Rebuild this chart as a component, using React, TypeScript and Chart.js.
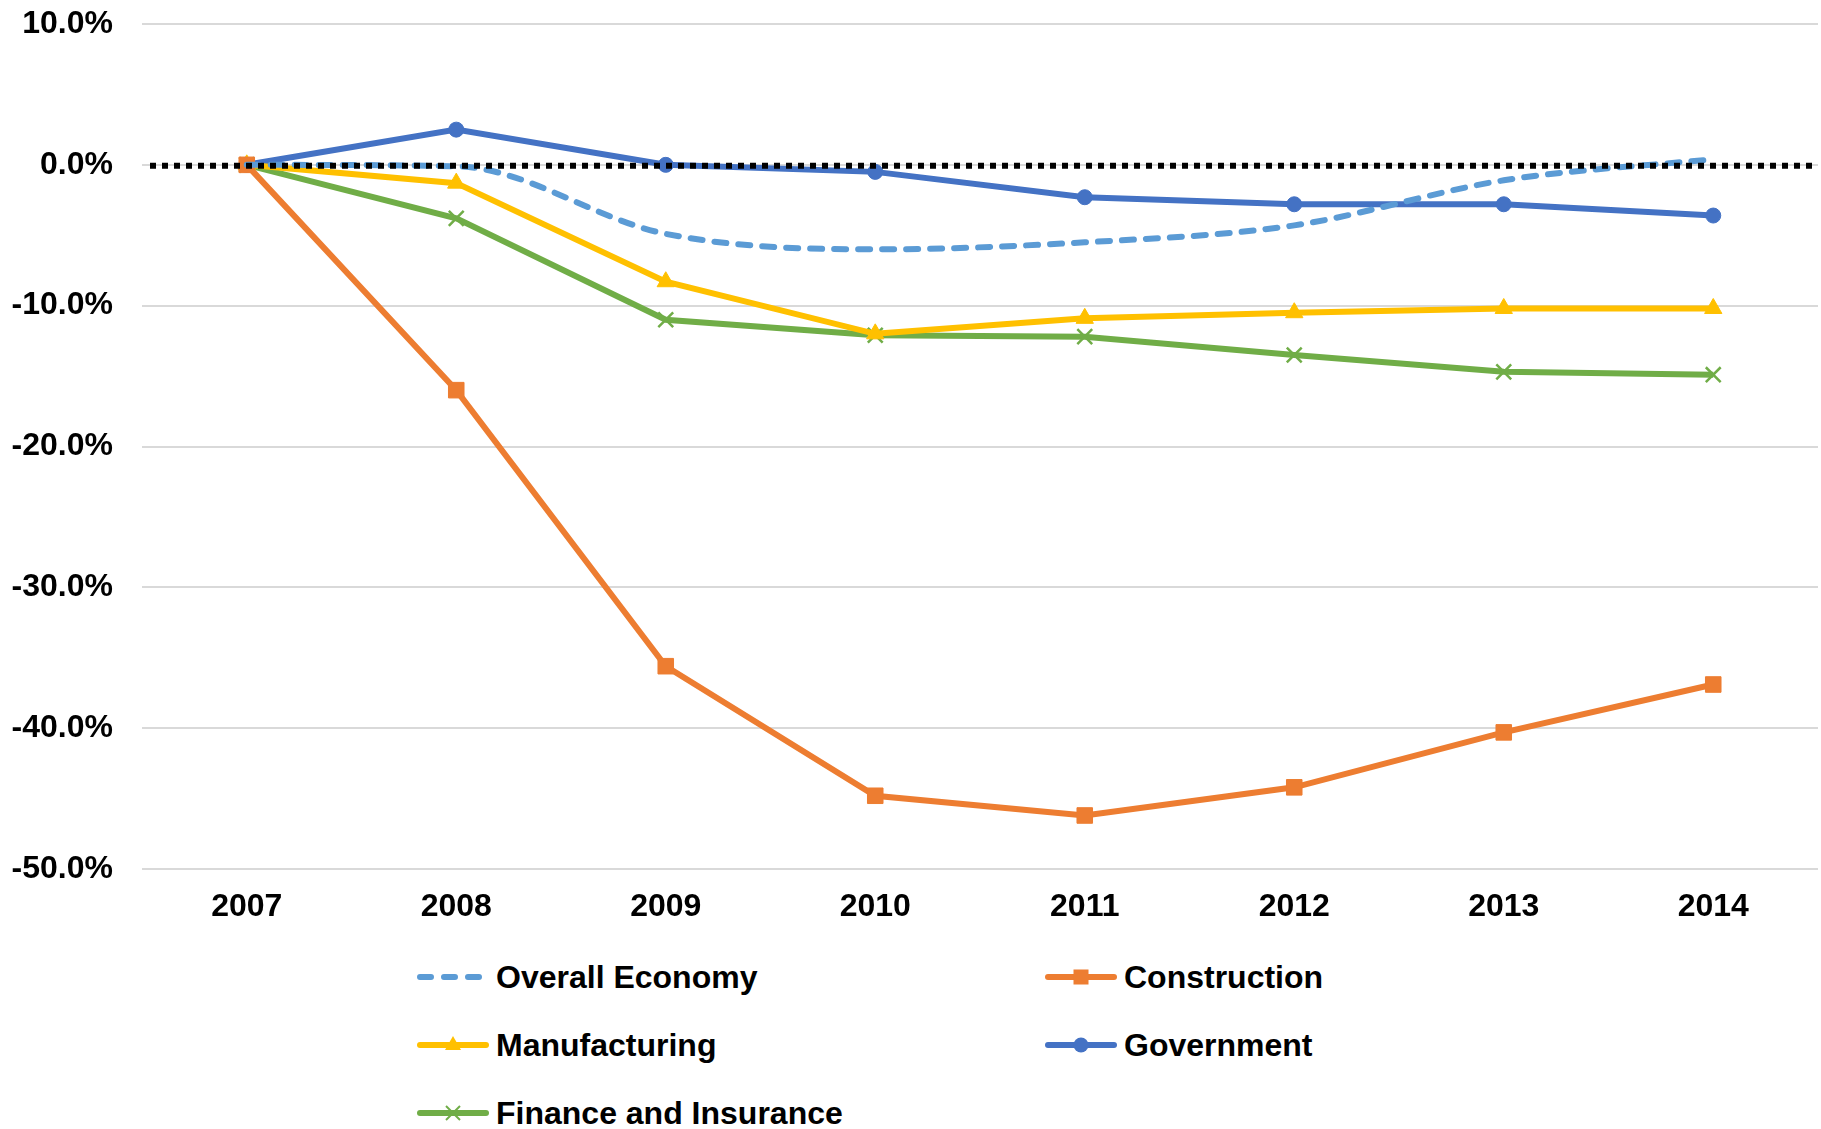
import React, { useEffect, useRef } from 'react';
import { Chart, registerables } from 'chart.js';

Chart.register(...registerables);

const years = ['2007', '2008', '2009', '2010', '2011', '2012', '2013', '2014'];
const overallEconomy = [0, -0.1, -4.9, -6.0, -5.5, -4.3, -1.1, 0.4];
const construction = [0, -16.0, -35.6, -44.8, -46.2, -44.2, -40.3, -36.9];
const manufacturing = [0, -1.3, -8.3, -12.0, -10.9, -10.5, -10.2, -10.2];
const government = [0, 2.5, 0.0, -0.5, -2.3, -2.8, -2.8, -3.6];
const finance = [0, -3.8, -11.0, -12.1, -12.2, -13.5, -14.7, -14.9];

const yMin = -50;
const yMax = 10;
const yStep = 10;

const C_OVERALL = '#5B9BD5';
const C_CONSTR = '#ED7D31';
const C_MANUF = '#FFC000';
const C_GOV = '#4472C4';
const C_FIN = '#70AD47';

const FONT_FAMILY = '"Liberation Sans", Arial, Helvetica, sans-serif';
const FONT_SIZE = 32;

const zeroLine = {
  id: 'zeroLine',
  afterDatasetsDraw(chart: any) {
    const { ctx, chartArea, scales } = chart;
    const py = scales.y.getPixelForValue(0) + 1;
    ctx.save();
    ctx.strokeStyle = '#000000';
    ctx.lineWidth = 6;
    ctx.setLineDash([6, 6]);
    ctx.beginPath();
    ctx.moveTo(chartArea.left + 8, py);
    ctx.lineTo(chartArea.right - 6, py);
    ctx.stroke();
    ctx.restore();
  },
};

type LegendItem = { label: string; color: string; kind: 'dash' | 'rect' | 'triangle' | 'circle' | 'cross' };

const legendItems: LegendItem[] = [
  { label: 'Overall Economy', color: C_OVERALL, kind: 'dash' },
  { label: 'Construction', color: C_CONSTR, kind: 'rect' },
  { label: 'Manufacturing', color: C_MANUF, kind: 'triangle' },
  { label: 'Government', color: C_GOV, kind: 'circle' },
  { label: 'Finance and Insurance', color: C_FIN, kind: 'cross' },
];

function LegendIcon({ item }: { item: LegendItem }) {
  const c = item.color;
  const cx = 36;
  const cy = 12;
  let marker: any = null;
  if (item.kind === 'rect') marker = <rect x={cx - 7.5} y={cy - 7.5} width={15} height={15} fill={c} />;
  if (item.kind === 'circle') marker = <circle cx={cx} cy={cy} r={7.5} fill={c} />;
  if (item.kind === 'triangle')
    marker = <polygon points={`${cx},${cy - 9} ${cx + 8},${cy + 5} ${cx - 8},${cy + 5}`} fill={c} />;
  if (item.kind === 'cross')
    marker = (
      <g stroke={c} strokeWidth={2}>
        <line x1={cx - 7} y1={cy - 7} x2={cx + 7} y2={cy + 7} />
        <line x1={cx - 7} y1={cy + 7} x2={cx + 7} y2={cy - 7} />
      </g>
    );
  return (
    <svg width={72} height={24} style={{ display: 'block', flex: 'none' }}>
      {item.kind === 'dash' ? (
        <line x1={3} y1={cy} x2={66} y2={cy} stroke={c} strokeWidth={6} strokeLinecap="round" strokeDasharray="11 13" />
      ) : (
        <line x1={3} y1={cy} x2={69} y2={cy} stroke={c} strokeWidth={6} strokeLinecap="round" />
      )}
      {marker}
    </svg>
  );
}

export default function App() {
  const canvasRef = useRef<HTMLCanvasElement | null>(null);

  useEffect(() => {
    if (!canvasRef.current) return;
    const baseDs = {
      borderWidth: 6,
      pointBorderWidth: 1,
      fill: false,
      tension: 0,
    };
    const chart = new Chart(canvasRef.current, {
      type: 'line',
      data: {
        labels: years,
        datasets: [
          {
            ...baseDs,
            label: 'Overall Economy',
            data: overallEconomy,
            borderColor: C_OVERALL,
            backgroundColor: C_OVERALL,
            borderDash: [12, 12],
            borderCapStyle: 'round',
            pointRadius: 0,
            cubicInterpolationMode: 'monotone',
          },
          {
            ...baseDs,
            label: 'Construction',
            data: construction,
            borderColor: C_CONSTR,
            backgroundColor: C_CONSTR,
            pointStyle: 'rect',
            pointRadius: 11,
            pointBackgroundColor: C_CONSTR,
            pointBorderColor: C_CONSTR,
          },
          {
            ...baseDs,
            label: 'Manufacturing',
            data: manufacturing,
            borderColor: C_MANUF,
            backgroundColor: C_MANUF,
            pointStyle: 'triangle',
            pointRadius: 10,
            pointBackgroundColor: C_MANUF,
            pointBorderColor: C_MANUF,
          },
          {
            ...baseDs,
            label: 'Government',
            data: government,
            borderColor: C_GOV,
            backgroundColor: C_GOV,
            pointStyle: 'circle',
            pointRadius: 7.5,
            pointBackgroundColor: C_GOV,
            pointBorderColor: C_GOV,
          },
          {
            ...baseDs,
            label: 'Finance and Insurance',
            data: finance,
            borderColor: C_FIN,
            backgroundColor: C_FIN,
            pointStyle: 'crossRot',
            pointRadius: 10.5,
            pointBorderWidth: 2.5,
            pointBorderColor: C_FIN,
          },
        ],
      },
      options: {
        animation: false,
        responsive: false,
        maintainAspectRatio: false,
        devicePixelRatio: 1,
        layout: { autoPadding: false, padding: { top: 24, right: 3, bottom: 0, left: 0 } },
        plugins: {
          legend: { display: false },
          tooltip: { enabled: false },
        },
        scales: {
          x: {
            offset: true,
            grid: { display: false, drawTicks: false },
            border: { display: false },
            ticks: {
              color: '#000000',
              padding: 19,
              font: { family: FONT_FAMILY, size: FONT_SIZE, weight: 'bold' },
              maxRotation: 0,
            },
            afterFit: (scale: any) => {
              scale.height = 71;
            },
          },
          y: {
            min: yMin,
            max: yMax,
            grid: { color: '#D9D9D9', lineWidth: 2, drawTicks: false },
            border: { display: false },
            ticks: {
              stepSize: yStep,
              color: '#000000',
              padding: 29,
              font: { family: FONT_FAMILY, size: FONT_SIZE, weight: 'bold' },
              callback: (v: any) => `${Number(v).toFixed(1)}%`,
            },
            afterFit: (scale: any) => {
              scale.width = 142;
              scale.paddingTop = 0;
              scale.paddingBottom = 0;
            },
          },
        },
      },
      plugins: [zeroLine],
    } as any);
    return () => chart.destroy();
  }, []);

  const colX = [417, 1045];
  const rowY = [977, 1045, 1113];

  return (
    <div style={{ position: 'absolute', left: 0, top: 0, width: 1821, height: 1129, background: '#ffffff', overflow: 'hidden' }}>
      <canvas ref={canvasRef} width={1821} height={940} style={{ position: 'absolute', left: 0, top: 0, width: 1821, height: 940 }} />
      {legendItems.map((item, i) => (
        <div
          key={item.label}
          style={{
            position: 'absolute',
            left: colX[i % 2],
            top: rowY[Math.floor(i / 2)] - 20,
            height: 40,
            display: 'flex',
            alignItems: 'center',
            whiteSpace: 'nowrap',
          }}
        >
          <LegendIcon item={item} />
          <span
            style={{
              marginLeft: 7,
              fontFamily: FONT_FAMILY,
              fontWeight: 'bold',
              fontSize: FONT_SIZE,
              color: '#000000',
              lineHeight: '40px',
            }}
          >
            {item.label}
          </span>
        </div>
      ))}
    </div>
  );
}
